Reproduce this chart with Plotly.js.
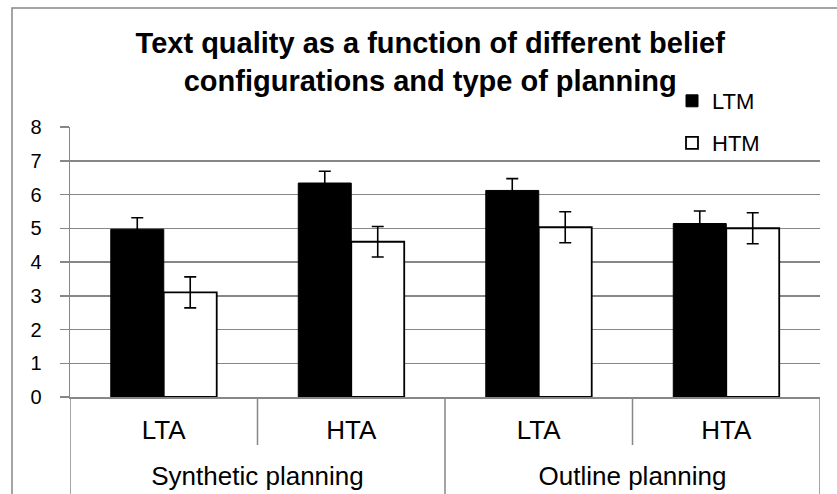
<!DOCTYPE html>
<html>
<head>
<meta charset="utf-8">
<script src="https://cdn.plot.ly/plotly-3.0.1.min.js"></script>
<style>html,body{margin:0;padding:0;background:#fff;}#chart{width:837px;height:494px;}</style>
</head>
<body>
<div id="chart"></div>
<script>
// ---- data ----
const planningTypes = ["Synthetic planning", "Synthetic planning", "Outline planning", "Outline planning"];
const attitudeLevels = ["LTA", "HTA", "LTA", "HTA"];
const seriesNames = ["LTM", "HTM"];
const ltmValues = [4.97, 6.34, 6.12, 5.14];
const ltmErrors = [0.34, 0.35, 0.35, 0.37];
const htmValues = [3.10, 4.60, 5.03, 5.00];
const htmErrors = [0.46, 0.45, 0.46, 0.46];
const yTickValues = [0, 1, 2, 3, 4, 5, 6, 7, 8];

const GRID = "#878787";
const FONT = "Liberation Sans, Arial, sans-serif";

// category slots (one per bar group) and the two-level structure
const slots = attitudeLevels.map((_, i) => i);
const groups = [...new Set(planningTypes)];
const groupCenters = groups.map(g => {
  const idx = slots.filter(i => planningTypes[i] === g);
  return idx.reduce((a, b) => a + b, 0) / idx.length;
});
const innerEdges = [], groupEdges = [-0.5, slots.length - 0.5];
for (let i = 1; i < slots.length; i++) {
  (planningTypes[i] === planningTypes[i - 1] ? innerEdges : groupEdges).push(i - 0.5);
}

const traces = [
  {
    type: "bar", name: seriesNames[0],
    x: slots, y: ltmValues,
    marker: {color: "#000000", line: {color: "#000000", width: 1}},
    error_y: {type: "data", array: ltmErrors, visible: true, color: "#000000", thickness: 1.6, width: 6},
    legend: "legend", hoverinfo: "skip"
  },
  {
    type: "bar", name: seriesNames[1],
    x: slots, y: htmValues,
    marker: {color: "#ffffff", line: {color: "#000000", width: 1.8}},
    error_y: {type: "data", array: htmErrors, visible: true, color: "#000000", thickness: 1.6, width: 6},
    legend: "legend2", hoverinfo: "skip"
  },
  { // carrier for the group-label axis
    type: "scatter", mode: "markers", x: groupCenters, y: groupCenters.map(() => null),
    xaxis: "x2", yaxis: "y", showlegend: false, hoverinfo: "skip"
  }
];

const innerDrop = 48 / 270;   // inner separators reach 48 px below the axis
const sepLine = {color: GRID, width: 1.5};
const shapes = [
  {type: "rect", xref: "paper", yref: "paper",
   x0: -58 / 750, x1: 1.04, y0: -0.4, y1: (397 - 8) / 270,
   line: sepLine, fillcolor: "rgba(0,0,0,0)", layer: "below"}
];
innerEdges.forEach(e => shapes.push({type: "line", xref: "x", yref: "paper",
  x0: e, x1: e, y0: 0, y1: -innerDrop, line: sepLine}));
groupEdges.forEach(e => shapes.push({type: "line", xref: "x", yref: "paper",
  x0: e, x1: e, y0: 0, y1: -0.4, line: sepLine}));

const xRange = [-0.5, slots.length - 0.5];

const layout = {
  width: 837, height: 494,
  margin: {l: 70, r: 17, t: 127, b: 97, autoexpand: false},
  paper_bgcolor: "#ffffff", plot_bgcolor: "#ffffff",
  font: {family: FONT, color: "#000000"},
  barmode: "group", bargap: 0.435, bargroupgap: 0,
  title: {
    text: "Text quality as a function of different belief<br>configurations and type of planning",
    font: {family: FONT, size: 29, weight: "bold", color: "#000000"},
    xref: "container", x: 0.514, xanchor: "center",
    yref: "container", y: 0.893, yanchor: "top"
  },
  xaxis: {
    type: "linear", range: xRange, tickvals: slots, ticktext: attitudeLevels,
    showline: true, linecolor: GRID, linewidth: 1.5,
    ticks: "", ticklabelstandoff: 9,
    tickfont: {family: FONT, size: 26, color: "#000000"},
    showgrid: false, zeroline: false
  },
  xaxis2: {
    type: "linear", range: xRange, overlaying: "x", anchor: "y", side: "bottom",
    tickvals: groupCenters, ticktext: groups,
    showline: false, ticks: "", ticklabelstandoff: 61,
    tickfont: {family: FONT, size: 26, color: "#000000"},
    showgrid: false, zeroline: false
  },
  yaxis: {
    range: [0, 8], tickvals: yTickValues,
    showline: true, linecolor: GRID, linewidth: 1.5,
    showgrid: true, gridcolor: GRID, gridwidth: 1.5,
    zeroline: false,
    ticks: "outside", ticklen: 9, tickcolor: GRID, tickwidth: 1.5,
    ticklabelstandoff: 14,
    tickfont: {family: FONT, size: 20, color: "#000000"}
  },
  legend: {
    xref: "container", yref: "container",
    x: 672 / 837, xanchor: "left", y: 1 - 80 / 494, yanchor: "top",
    bgcolor: "rgba(0,0,0,0)", borderwidth: 0,
    font: {family: FONT, size: 22, color: "#000000"}
  },
  legend2: {
    xref: "container", yref: "container",
    x: 672 / 837, xanchor: "left", y: 1 - 122 / 494, yanchor: "top",
    bgcolor: "rgba(0,0,0,0)", borderwidth: 0,
    font: {family: FONT, size: 22, color: "#000000"}
  },
  shapes: shapes,
  showlegend: true
};

Plotly.newPlot("chart", traces, layout, {staticPlot: true, displayModeBar: false});
</script>
</body>
</html>
